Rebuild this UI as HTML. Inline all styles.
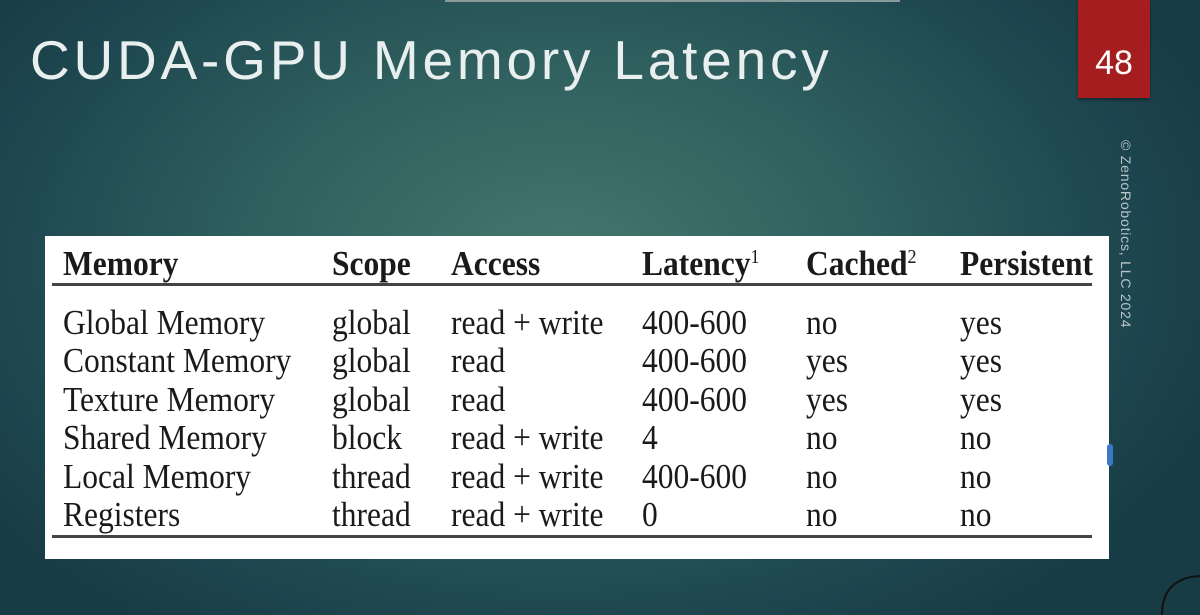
<!DOCTYPE html>
<html style="margin:0;width:1200px;height:615px;overflow:hidden;background:#1e4750"><head><meta charset="utf-8"><style>
body{margin:0;width:1200px;height:615px;overflow:hidden;position:relative;
background:radial-gradient(ellipse 700px 450px at 560px 260px,#43786e 0%,#2f5f5e 45%,#1e4750 80%,#183c46 100%);
font-family:"Liberation Serif",serif;}
.t{position:absolute;white-space:nowrap;}
#title{left:30px;top:28px;font-family:"Liberation Sans",sans-serif;font-size:55px;color:#e9efef;letter-spacing:3.8px;font-weight:300;}
#num{position:absolute;left:1078px;top:0;width:72px;height:98px;background:#a51d1f;box-shadow:0 2px 3px rgba(0,0,0,.4);color:#fff;font-family:"Liberation Sans",sans-serif;font-size:34px;text-align:center;line-height:126px;}
#copy{position:absolute;left:1112px;top:140px;font-family:"Liberation Sans",sans-serif;font-size:14px;color:#b9c6c8;transform-origin:0 0;transform:translate(22px,0) rotate(90deg);letter-spacing:.8px;white-space:nowrap;}
#tbl{position:absolute;left:45px;top:236px;width:1064px;height:323px;background:#fff;}
.c{position:absolute;font-size:35px;line-height:40px;color:#1a1a1a;white-space:nowrap;transform:scaleX(.9);transform-origin:0 0;}
.h{font-weight:bold;}
.rule{position:absolute;left:7px;width:1040px;background:#444;}
sup{font-size:20px;font-weight:normal;vertical-align:12px;line-height:0;}
</style></head><body>
<div style="position:absolute;left:445px;top:0;width:455px;height:2px;background:#8a9a9a"></div>
<div class="t" id="title">CUDA-GPU Memory Latency</div>
<div id="num">48</div>
<div id="copy">© ZenoRobotics, LLC 2024</div>
<div id="tbl">
<div class="rule" style="top:47px;height:3px"></div>
<div class="rule" style="top:299px;height:3px"></div>
<div class="c h" style="left:18px;top:8px">Memory</div>
<div class="c h" style="left:287px;top:8px">Scope</div>
<div class="c h" style="left:406px;top:8px">Access</div>
<div class="c h" style="left:597px;top:8px">Latency<sup>1</sup></div>
<div class="c h" style="left:761px;top:8px">Cached<sup>2</sup></div>
<div class="c h" style="left:915px;top:8px">Persistent</div>

<div class="c" style="left:18px;top:67px">Global Memory</div><div class="c" style="left:287px;top:67px">global</div><div class="c" style="left:406px;top:67px">read + write</div><div class="c" style="left:597px;top:67px">400-600</div><div class="c" style="left:761px;top:67px">no</div><div class="c" style="left:915px;top:67px">yes</div>
<div class="c" style="left:18px;top:105px">Constant Memory</div><div class="c" style="left:287px;top:105px">global</div><div class="c" style="left:406px;top:105px">read</div><div class="c" style="left:597px;top:105px">400-600</div><div class="c" style="left:761px;top:105px">yes</div><div class="c" style="left:915px;top:105px">yes</div>
<div class="c" style="left:18px;top:144px">Texture Memory</div><div class="c" style="left:287px;top:144px">global</div><div class="c" style="left:406px;top:144px">read</div><div class="c" style="left:597px;top:144px">400-600</div><div class="c" style="left:761px;top:144px">yes</div><div class="c" style="left:915px;top:144px">yes</div>
<div class="c" style="left:18px;top:182px">Shared Memory</div><div class="c" style="left:287px;top:182px">block</div><div class="c" style="left:406px;top:182px">read + write</div><div class="c" style="left:597px;top:182px">4</div><div class="c" style="left:761px;top:182px">no</div><div class="c" style="left:915px;top:182px">no</div>
<div class="c" style="left:18px;top:221px">Local Memory</div><div class="c" style="left:287px;top:221px">thread</div><div class="c" style="left:406px;top:221px">read + write</div><div class="c" style="left:597px;top:221px">400-600</div><div class="c" style="left:761px;top:221px">no</div><div class="c" style="left:915px;top:221px">no</div>
<div class="c" style="left:18px;top:259px">Registers</div><div class="c" style="left:287px;top:259px">thread</div><div class="c" style="left:406px;top:259px">read + write</div><div class="c" style="left:597px;top:259px">0</div><div class="c" style="left:761px;top:259px">no</div><div class="c" style="left:915px;top:259px">no</div>
</div>
<div style="position:absolute;left:1107px;top:444px;width:6px;height:22px;background:#3a78c8;border-radius:3px"></div>
<svg style="position:absolute;left:1150px;top:570px" width="50" height="45"><path d="M12 45 Q12 8 50 6" fill="none" stroke="#111" stroke-width="2"/></svg>
</body></html>
